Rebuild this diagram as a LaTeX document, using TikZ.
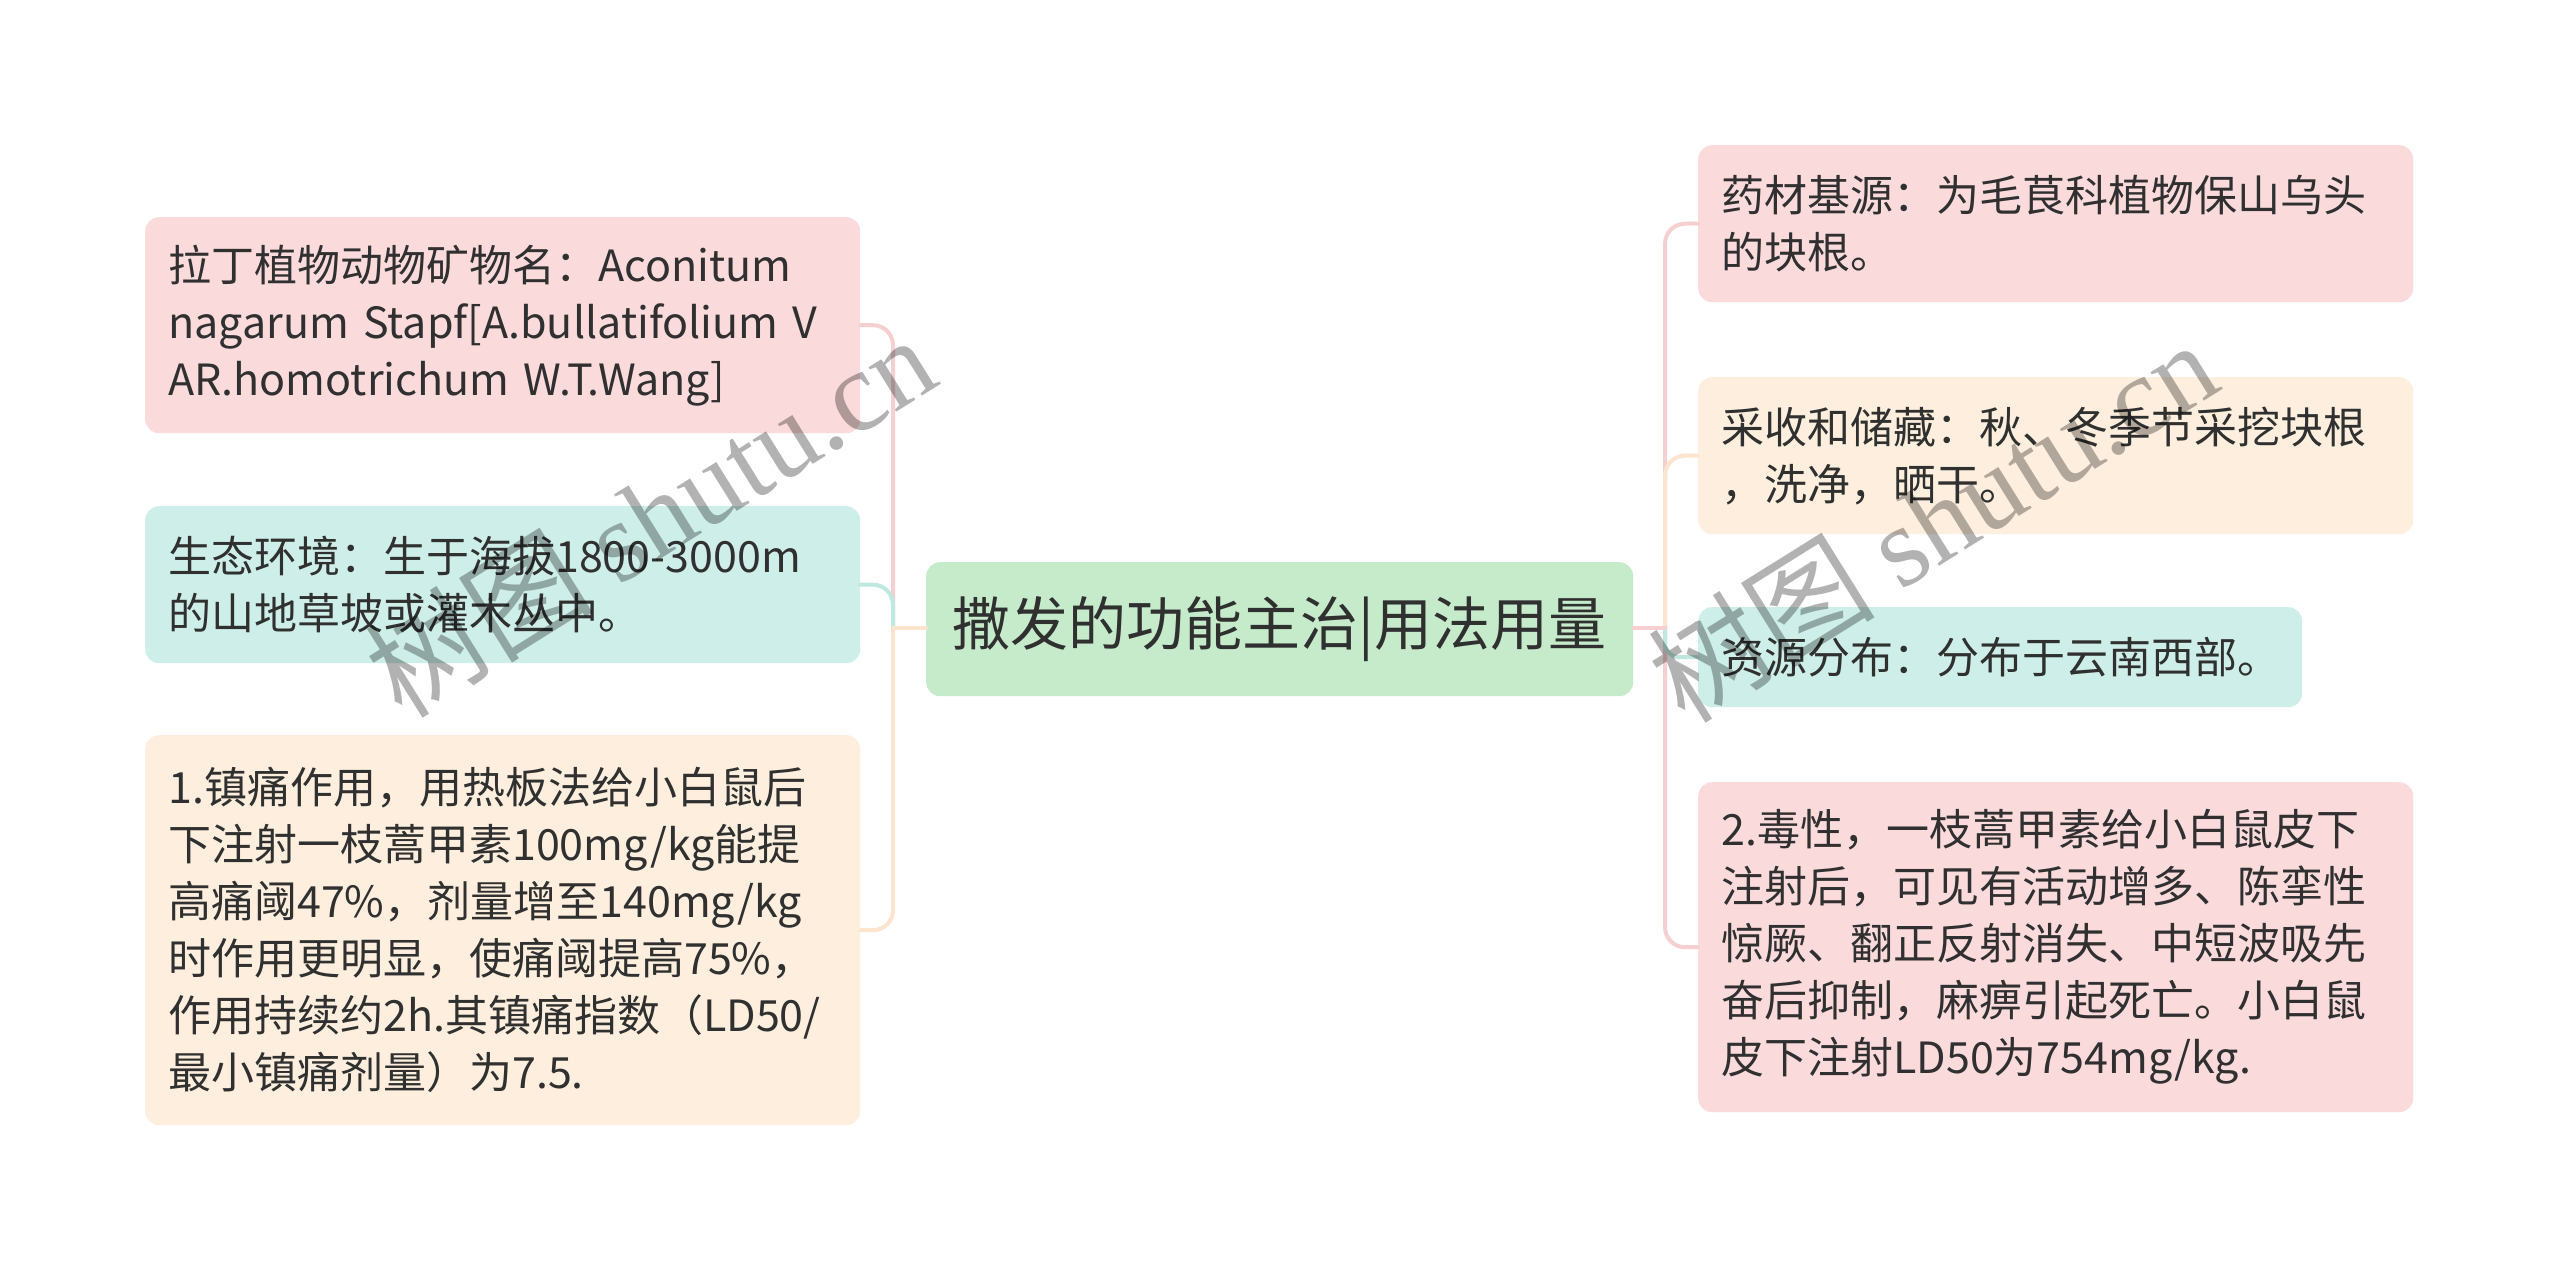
\documentclass[tikz,border=0pt]{standalone}
\usepackage{fontspec}
\setmainfont{Noto Sans CJK SC}
\newfontfamily\wmlatin{Liberation Serif}
\usetikzlibrary{positioning}
\definecolor{txt}{RGB}{48,48,48}
\definecolor{pinkf}{RGB}{250,218,219}
\definecolor{mintf}{RGB}{206,239,233}
\definecolor{peachf}{RGB}{253,238,222}
\definecolor{greenf}{RGB}{197,235,203}
\definecolor{pinkl}{RGB}{246,208,209}
\definecolor{mintl}{RGB}{190,232,224}
\definecolor{peachl}{RGB}{252,228,206}
\tikzset{
  leaf/.style={rounded corners=14pt, inner xsep=23pt, inner ysep=0pt, align=left,
    anchor=north west, text=txt, font=\fontsize{43}{57}\selectfont},
  rootbox/.style={rounded corners=14pt, fill=greenf, inner sep=0pt, anchor=north west,
    minimum width=707pt, minimum height=134pt, text=txt, font=\fontsize{58}{62}\selectfont},
  conn/.style={line width=4pt, line cap=round},
  wm/.style={text=black, text opacity=0.3, rotate=32, font=\fontsize{114}{114}\selectfont}
}
\begin{document}
\begin{tikzpicture}[x=1pt,y=-1pt]
\useasboundingbox[fill=white] (0,0) rectangle (2560,1272);
% root
\node[rootbox] (c) at (926,562) {撒发的功能主治|用法用量};
% left leaves
\node[leaf, fill=pinkf, text width=669pt, minimum height=216pt] (L1) at (145,217)
  {拉丁植物动物矿物名：Aconitum\\nagarum Stapf[A.bullatifolium V\\AR.homotrichum W.T.Wang]};
\node[leaf, fill=mintf, text width=669pt, minimum height=157pt] (L2) at (145,506)
  {生态环境：生于海拔1800-3000m\\的山地草坡或灌木丛中。};
\node[leaf, fill=peachf, text width=669pt, minimum height=390pt] (L3) at (145,735)
  {1.镇痛作用，用热板法给小白鼠后\\下注射一枝蒿甲素100mg/kg能提\\高痛阈47\%，剂量增至140mg/kg\\时作用更明显，使痛阈提高75\%，\\作用持续约2h.其镇痛指数（LD50/\\最小镇痛剂量）为7.5.};
% right leaves
\node[leaf, fill=pinkf, text width=669pt, minimum height=157pt] (R1) at (1698,145)
  {药材基源：为毛茛科植物保山乌头\\的块根。};
\node[leaf, fill=peachf, text width=669pt, minimum height=157pt] (R2) at (1698,377)
  {采收和储藏：秋、冬季节采挖块根\\，洗净，晒干。};
\node[leaf, fill=mintf, text width=558pt, minimum height=100pt] (R3) at (1698,607)
  {资源分布：分布于云南西部。};
\node[leaf, fill=pinkf, text width=669pt, minimum height=330pt] (R4) at (1698,782)
  {2.毒性，一枝蒿甲素给小白鼠皮下\\注射后，可见有活动增多、陈挛性\\惊厥、翻正反射消失、中短波吸先\\奋后抑制，麻痹引起死亡。小白鼠\\皮下注射LD50为754mg/kg.};
% trunk coordinates
\coordinate (lt) at (893,628);
\coordinate (rt) at (1665,628);
% left connectors
\draw[conn, pinkl, rounded corners=20pt] (lt) |- (L1.east);
\draw[conn, peachl, rounded corners=20pt] (lt) |- (L3.east);
\draw[conn, mintl, rounded corners=20pt] (lt) |- (L2.east);
\draw[conn, peachl] (c.west |- lt) -- (lt);
% right connectors
\draw[conn, pinkl, rounded corners=20pt] (rt) |- (R1.west);
\draw[conn, peachl, rounded corners=20pt] (rt) |- (R2.west);
\draw[conn, pinkl, rounded corners=20pt] (rt) |- (R4.west);
\draw[conn, mintl, rounded corners=14pt] (rt) |- (R3.west);
\draw[conn, pinkl] (c.east |- rt) -- (rt);
% watermarks
\node[wm] (w1) at (650,515) {树图 {\wmlatin shutu.cn}};
\node[wm] (w2) at (1932,520) {树图 {\wmlatin shutu.cn}};
\end{tikzpicture}
\end{document}
